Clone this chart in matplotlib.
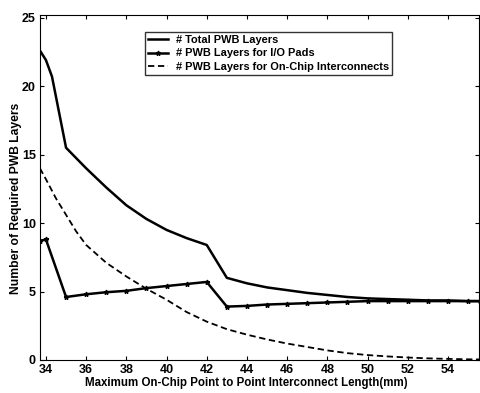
import matplotlib.pyplot as plt

plt.rcParams["font.family"] = ["Liberation Sans", "DejaVu Sans"]
plt.rcParams["font.weight"] = "bold"

# data
x_total = [33.7, 34, 34.3, 35, 36, 37, 38, 39, 40, 41, 42, 43, 44, 45, 46, 47, 48, 49, 50, 51, 52, 53, 54, 55, 55.6]
total = [22.6, 21.9, 20.7, 15.5, 14.0, 12.6, 11.3, 10.3, 9.5, 8.9, 8.4, 6.0, 5.6, 5.3, 5.1, 4.9, 4.75, 4.6, 4.5, 4.45, 4.4, 4.35, 4.35, 4.3, 4.3]

x_io = [33.7, 34, 35, 36, 37, 38, 39, 40, 41, 42, 43, 44, 45, 46, 47, 48, 49, 50, 51, 52, 53, 54, 55, 55.6]
io_pads = [8.7, 8.8, 4.6, 4.8, 4.95, 5.05, 5.25, 5.4, 5.55, 5.7, 3.9, 3.95, 4.05, 4.1, 4.15, 4.2, 4.25, 4.3, 4.3, 4.3, 4.3, 4.3, 4.3, 4.3]

x_chip = [33.7, 34, 34.5, 35, 35.5, 36, 37, 38, 39, 40, 41, 42, 43, 44, 45, 46, 47, 48, 49, 50, 51, 52, 53, 54, 55, 55.6]
on_chip = [14.0, 13.2, 11.8, 10.6, 9.4, 8.4, 7.1, 6.1, 5.2, 4.4, 3.5, 2.8, 2.25, 1.85, 1.5, 1.2, 0.95, 0.7, 0.5, 0.36, 0.26, 0.18, 0.12, 0.08, 0.05, 0.04]

xticks = [34, 36, 38, 40, 42, 44, 46, 48, 50, 52, 54]
yticks = [0, 5, 10, 15, 20, 25]

fig = plt.figure(figsize=(4.81, 3.93), dpi=100)
ax = fig.add_axes([0.083, 0.084, 0.913, 0.878])

ax.plot(x_total, total, color="black", linewidth=1.8, label="# Total PWB Layers")
ax.plot(x_io, io_pads, color="black", linewidth=1.8, marker="*", markersize=3.5,
        label="# PWB Layers for I/O Pads")
ax.plot(x_chip, on_chip, color="black", linewidth=1.3, linestyle=(0, (3.5, 2)),
        label="# PWB Layers for On-Chip Interconnects")

ax.set_xlim(33.7, 55.55)
ax.set_ylim(0, 25.2)
ax.set_xticks(xticks)
ax.set_yticks(yticks)
ax.tick_params(direction="in", length=3, labelsize=9, pad=3, top=True, right=True)
for lab in ax.get_xticklabels() + ax.get_yticklabels():
    lab.set_fontweight("bold")

ax.set_xlabel("Maximum On-Chip Point to Point Interconnect Length(mm)", fontsize=8.3,
              fontweight="bold")
ax.set_ylabel("Number of Required PWB Layers", fontsize=8.7, fontweight="bold")
ax.xaxis.set_label_coords(0.469, -0.05)
ax.yaxis.set_label_coords(-0.04, 0.467)

leg = ax.legend(loc="upper left", bbox_to_anchor=(0.239, 0.951), fontsize=7.9,
                frameon=True, fancybox=False, edgecolor="black", borderpad=0.3,
                labelspacing=0.3, handlelength=1.8, handletextpad=0.7, borderaxespad=0)
leg.get_frame().set_linewidth(1.0)

fig.savefig("out.png", dpi=100)
